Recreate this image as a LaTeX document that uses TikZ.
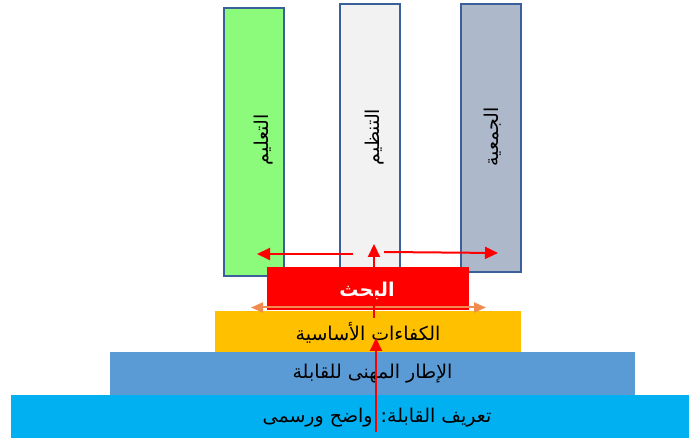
\documentclass[tikz,border=0pt]{standalone}
\usepackage{fontspec}
\newfontfamily\arabicfont[Script=Arabic]{DejaVu Sans}
\TeXXeTstate=1
\usetikzlibrary{arrows.meta,positioning}
\definecolor{pillgreen}{RGB}{140,250,122}
\definecolor{pillgray}{RGB}{242,242,242}
\definecolor{pillslate}{RGB}{173,185,202}
\definecolor{pillblue}{RGB}{58,95,154}
\definecolor{corecol}{RGB}{255,192,0}
\definecolor{framecol}{RGB}{91,155,213}
\definecolor{defcol}{RGB}{0,176,240}
\definecolor{orline}{RGB}{240,140,80}
\newcommand{\artext}[1]{\arabicfont\beginR #1\endR}

\begin{document}
\begin{tikzpicture}[x=1pt, y=-1pt,
	pillar/.style = {draw=pillblue, line width=2pt, minimum width=60pt, minimum height=268pt, inner sep=0pt},
	bar/.style = {minimum height=43pt, inner sep=0pt, font=\fontsize{19}{21}\selectfont},
	vlabel/.style = {rotate=90, inner sep=0pt, font=\fontsize{19}{21}\selectfont},
	redarrow/.style = {-{Triangle[length=13pt,width=12pt]}, red, line width=2pt},
	orarrow/.style = {{Triangle[length=12pt,width=10pt]}-{Triangle[length=12pt,width=10pt]}, orline, line width=2pt}]
		\useasboundingbox (0,0) rectangle (689,443);
		\node[pillar, fill=pillgreen] (learn) at (254,142.5) {};
		\node[pillar, fill=pillgray] (organize) at (370,138) {};
		\node[pillar, fill=pillslate] (assoc) at (491,138) {};
		\node[vlabel] (learnt) at (264,140) {\artext{التعليم}};
		\node[vlabel] (organizet) at (375,137) {\artext{التنظيم}};
		\node[vlabel] (assoct) at (493,137) {\artext{الجمعية}};
		\node[bar, fill=red, text=white, minimum width=202pt] (research) at (368,288.5) {};
		\node[bar, text=white, minimum height=0pt, font=\fontsize{19}{21}\selectfont\bfseries] (researcht) at (367,291) {\artext{البحث}};
		\node[bar, fill=corecol, minimum width=306pt] (core) at (368,332.5) {\artext{الكفاءات الأساسية}};
		\node[bar, fill=framecol, minimum width=525pt] (frame) at (372.5,373.5) {\artext{الإطار المهنى للقابلة}};
		\node[bar, fill=defcol, minimum width=678pt] (def) at (350,416.5) {};
		\node[bar, minimum height=0pt] (deft) at (377,418) {\artext{تعريف القابلة: واضح ورسمى}};
		\coordinate (up1a) at (376,432);
		\coordinate (up1b) at (376,338);
		\coordinate (up2a) at (374,318);
		\coordinate (up2b) at (374,244);
		\coordinate (lefta) at (353,254);
		\coordinate (leftb) at (257,254);
		\coordinate (righta) at (384,252);
		\coordinate (rightb) at (498,253);
		\coordinate (ora) at (251,307.5);
		\coordinate (orb) at (486,307.5);
		\draw[orarrow] (ora) -- (orb);
		\draw[redarrow] (up1a) -- (up1b);
		\draw[redarrow] (up2a) -- (up2b);
		\draw[redarrow] (lefta) -- (leftb);
		\draw[redarrow] (righta) -- (rightb);
\end{tikzpicture}
\end{document}
